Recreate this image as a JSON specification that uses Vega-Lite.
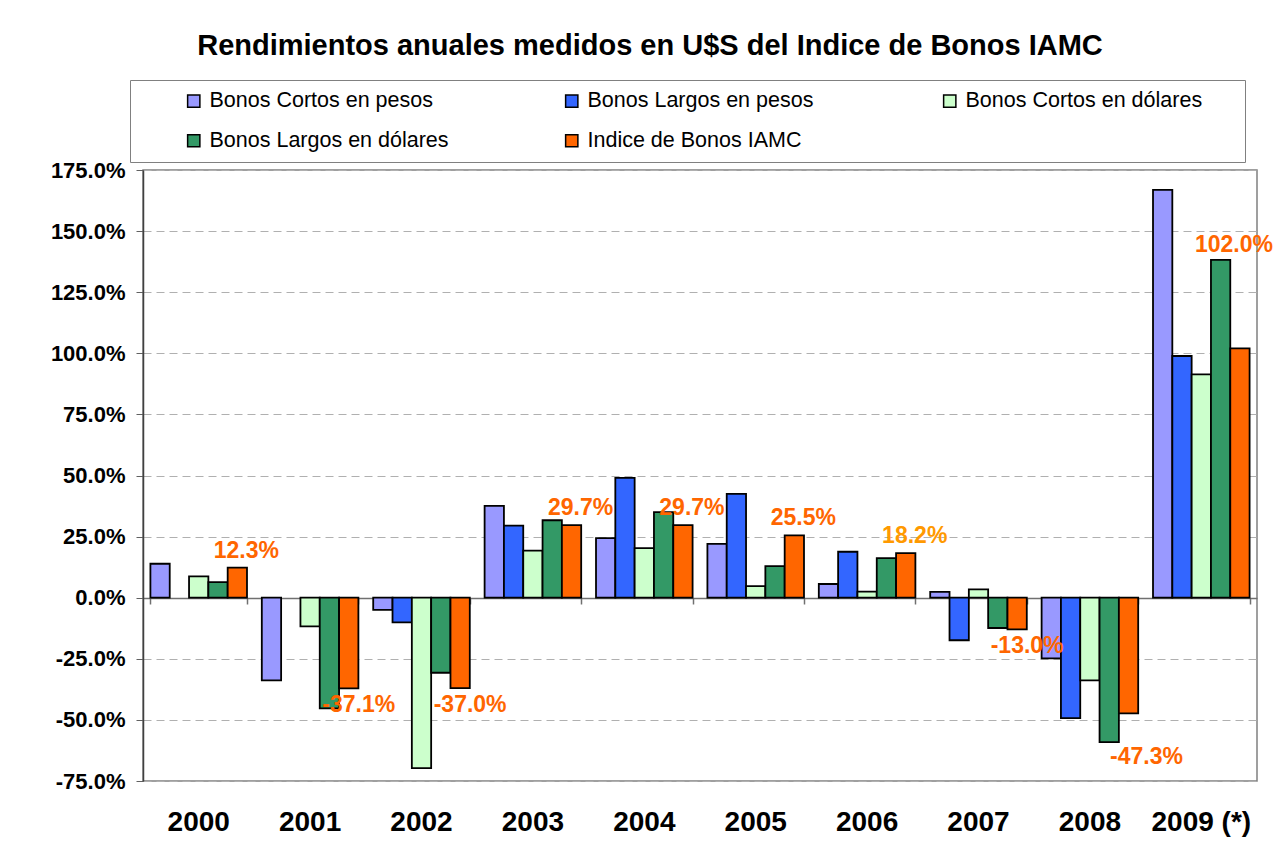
{
  "$schema": "https://vega.github.io/schema/vega-lite/v6.json",
  "width": 1114,
  "height": 611,
  "autosize": "none",
  "padding": {"left": 143, "top": 170, "right": 16, "bottom": 70},
  "background": "white",
  "config": {
    "locale": {"number": {"decimal": ".", "thousands": ",", "grouping": [3], "currency": ["$", ""], "minus": "-"}},
    "view": {"stroke": "#808080", "strokeWidth": 1.5},
    "font": "Liberation Sans"
  },
  "title": {
    "text": "Rendimientos anuales medidos en U$S del Indice de Bonos IAMC",
    "font": "Liberation Sans",
    "fontSize": 29,
    "fontWeight": "bold",
    "color": "black",
    "anchor": "middle",
    "frame": "group",
    "dx": -50,
    "offset": 19
  },
  "data": {
    "values": [
      {"year": "2000", "serie": "Bonos Cortos en pesos", "value": 0.139},
      {"year": "2000", "serie": "Bonos Cortos en dólares", "value": 0.087},
      {"year": "2000", "serie": "Bonos Largos en dólares", "value": 0.064},
      {"year": "2000", "serie": "Indice de Bonos IAMC", "value": 0.123},
      {"year": "2001", "serie": "Bonos Cortos en pesos", "value": -0.338},
      {"year": "2001", "serie": "Bonos Cortos en dólares", "value": -0.117},
      {"year": "2001", "serie": "Bonos Largos en dólares", "value": -0.453},
      {"year": "2001", "serie": "Indice de Bonos IAMC", "value": -0.371},
      {"year": "2002", "serie": "Bonos Cortos en pesos", "value": -0.05},
      {"year": "2002", "serie": "Bonos Largos en pesos", "value": -0.101},
      {"year": "2002", "serie": "Bonos Cortos en dólares", "value": -0.697},
      {"year": "2002", "serie": "Bonos Largos en dólares", "value": -0.307},
      {"year": "2002", "serie": "Indice de Bonos IAMC", "value": -0.37},
      {"year": "2003", "serie": "Bonos Cortos en pesos", "value": 0.376},
      {"year": "2003", "serie": "Bonos Largos en pesos", "value": 0.295},
      {"year": "2003", "serie": "Bonos Cortos en dólares", "value": 0.193},
      {"year": "2003", "serie": "Bonos Largos en dólares", "value": 0.317},
      {"year": "2003", "serie": "Indice de Bonos IAMC", "value": 0.297},
      {"year": "2004", "serie": "Bonos Cortos en pesos", "value": 0.244},
      {"year": "2004", "serie": "Bonos Largos en pesos", "value": 0.49},
      {"year": "2004", "serie": "Bonos Cortos en dólares", "value": 0.203},
      {"year": "2004", "serie": "Bonos Largos en dólares", "value": 0.35},
      {"year": "2004", "serie": "Indice de Bonos IAMC", "value": 0.297},
      {"year": "2005", "serie": "Bonos Cortos en pesos", "value": 0.22},
      {"year": "2005", "serie": "Bonos Largos en pesos", "value": 0.425},
      {"year": "2005", "serie": "Bonos Cortos en dólares", "value": 0.047},
      {"year": "2005", "serie": "Bonos Largos en dólares", "value": 0.129},
      {"year": "2005", "serie": "Indice de Bonos IAMC", "value": 0.255},
      {"year": "2006", "serie": "Bonos Cortos en pesos", "value": 0.056},
      {"year": "2006", "serie": "Bonos Largos en pesos", "value": 0.188},
      {"year": "2006", "serie": "Bonos Cortos en dólares", "value": 0.025},
      {"year": "2006", "serie": "Bonos Largos en dólares", "value": 0.162},
      {"year": "2006", "serie": "Indice de Bonos IAMC", "value": 0.182},
      {"year": "2007", "serie": "Bonos Cortos en pesos", "value": 0.024},
      {"year": "2007", "serie": "Bonos Largos en pesos", "value": -0.174},
      {"year": "2007", "serie": "Bonos Cortos en dólares", "value": 0.034},
      {"year": "2007", "serie": "Bonos Largos en dólares", "value": -0.124},
      {"year": "2007", "serie": "Indice de Bonos IAMC", "value": -0.13},
      {"year": "2008", "serie": "Bonos Cortos en pesos", "value": -0.248},
      {"year": "2008", "serie": "Bonos Largos en pesos", "value": -0.493},
      {"year": "2008", "serie": "Bonos Cortos en dólares", "value": -0.338},
      {"year": "2008", "serie": "Bonos Largos en dólares", "value": -0.591},
      {"year": "2008", "serie": "Indice de Bonos IAMC", "value": -0.473},
      {"year": "2009 (*)", "serie": "Bonos Cortos en pesos", "value": 1.669},
      {"year": "2009 (*)", "serie": "Bonos Largos en pesos", "value": 0.989},
      {"year": "2009 (*)", "serie": "Bonos Cortos en dólares", "value": 0.914},
      {"year": "2009 (*)", "serie": "Bonos Largos en dólares", "value": 1.382},
      {"year": "2009 (*)", "serie": "Indice de Bonos IAMC", "value": 1.02}
    ]
  },
  "layer": [
    {
      "mark": {"type": "bar", "stroke": "black", "strokeWidth": 1.8, "opacity": 1},
      "encoding": {
        "x": {
          "field": "year", "type": "nominal", "sort": null,
          "scale": {"paddingInner": 0.133, "paddingOuter": 0.0665},
          "axis": {
            "orient": "bottom", "title": null, "domain": false, "ticks": false, "grid": false,
            "labelAngle": 0, "labelFont": "Liberation Sans", "labelFontSize": 28, "labelFontWeight": "bold",
            "labelColor": "black", "labelPadding": 27
          }
        },
        "xOffset": {
          "field": "serie", "type": "nominal",
          "scale": {"domain": ["Bonos Cortos en pesos", "Bonos Largos en pesos", "Bonos Cortos en dólares", "Bonos Largos en dólares", "Indice de Bonos IAMC"], "paddingInner": 0, "paddingOuter": 0}
        },
        "y": {
          "field": "value", "type": "quantitative",
          "scale": {"domain": [-0.75, 1.75], "nice": false, "zero": false},
          "axis": {
            "title": null, "format": ".1%",
            "values": [-0.75, -0.5, -0.25, 0, 0.25, 0.5, 0.75, 1, 1.25, 1.5, 1.75],
            "labelFont": "Liberation Sans", "labelFontSize": 22, "labelFontWeight": "bold", "labelColor": "black",
            "labelPadding": 11, "tickSize": 7, "tickColor": "#606060", "tickWidth": 1,
            "domainColor": "#404040", "domainWidth": 1.5,
            "gridColor": "#b0b0b0", "gridDash": [8, 5], "gridWidth": 1
          }
        },
        "color": {
          "field": "serie", "type": "nominal",
          "scale": {
            "domain": ["Bonos Cortos en pesos", "Bonos Largos en pesos", "Bonos Cortos en dólares", "Bonos Largos en dólares", "Indice de Bonos IAMC"],
            "range": ["#9999FF", "#3366FF", "#CCFFCC", "#339966", "#FF6600"]
          },
          "legend": {
            "title": " ", "titleOrient": "left", "titleFontSize": 1, "titlePadding": 43,
            "orient": "none", "legendX": -13, "legendY": -90,
            "direction": "horizontal", "columns": 3, "gridAlign": "all",
            "columnPadding": 80, "rowPadding": 17, "padding": 10,
            "strokeColor": "#808080", "fillColor": "white",
            "symbolType": "square", "symbolSize": 150, "symbolStrokeColor": "black", "symbolStrokeWidth": 1.5, "symbolOpacity": 1,
            "labelFont": "Liberation Sans", "labelFontSize": 21.5, "labelColor": "black", "labelOffset": 5, "labelLimit": 600,
            "labelExpr": "datum.label + '\u2800\u2800'"
          }
        }
      }
    },
    {
      "transform": [{"filter": "datum.serie == 'Indice de Bonos IAMC' && datum.value > 0 && datum.year != '2009 (*)'"}],
      "mark": {"type": "text", "font": "Liberation Sans", "fontWeight": "bold", "fontSize": 23, "baseline": "alphabetic", "align": "center", "dy": -10, "dx": 9},
      "encoding": {
        "x": {
          "field": "year", "type": "nominal", "sort": null,
          "axis": {
            "orient": "bottom", "title": null, "offset": -183, "labels": false, "grid": false,
            "domain": true, "domainColor": "#707070", "domainWidth": 1.5,
            "ticks": true, "tickBand": "extent", "tickSize": 6, "tickColor": "#707070", "tickWidth": 1.5
          }
        },
        "xOffset": {"field": "serie", "type": "nominal"},
        "y": {"field": "value", "type": "quantitative"},
        "text": {"field": "value", "type": "quantitative", "format": ".1%"},
        "color": {"condition": {"test": "datum.year == '2006'", "value": "#FF9900"}, "value": "#FF6600"}
      }
    },
    {
      "transform": [{"filter": "datum.serie == 'Indice de Bonos IAMC' && datum.year == '2009 (*)'"}],
      "mark": {"type": "text", "font": "Liberation Sans", "fontWeight": "bold", "fontSize": 23, "baseline": "alphabetic", "align": "center", "dy": -96, "dx": -6},
      "encoding": {
        "x": {"field": "year", "type": "nominal", "sort": null, "axis": null},
        "xOffset": {"field": "serie", "type": "nominal"},
        "y": {"field": "value", "type": "quantitative"},
        "text": {"field": "value", "type": "quantitative", "format": ".1%"},
        "color": {"value": "#FF6600"}
      }
    },
    {
      "transform": [{"filter": "datum.serie == 'Indice de Bonos IAMC' && datum.value < 0 && datum.year != '2008'"}],
      "mark": {"type": "text", "font": "Liberation Sans", "fontWeight": "bold", "fontSize": 23, "baseline": "top", "align": "center", "dy": 6, "dx": 10},
      "encoding": {
        "x": {"field": "year", "type": "nominal", "sort": null, "axis": null},
        "xOffset": {"field": "serie", "type": "nominal"},
        "y": {"field": "value", "type": "quantitative"},
        "text": {"field": "value", "type": "quantitative", "format": ".1%"},
        "color": {"value": "#FF6600"}
      }
    },
    {
      "transform": [{"filter": "datum.serie == 'Indice de Bonos IAMC' && datum.year == '2008'"}],
      "mark": {"type": "text", "font": "Liberation Sans", "fontWeight": "bold", "fontSize": 23, "baseline": "top", "align": "center", "dy": 33, "dx": 18},
      "encoding": {
        "x": {"field": "year", "type": "nominal", "sort": null, "axis": null},
        "xOffset": {"field": "serie", "type": "nominal"},
        "y": {"field": "value", "type": "quantitative"},
        "text": {"field": "value", "type": "quantitative", "format": ".1%"},
        "color": {"value": "#FF6600"}
      }
    }
  ],
  "resolve": {"axis": {"x": "independent"}}
}
